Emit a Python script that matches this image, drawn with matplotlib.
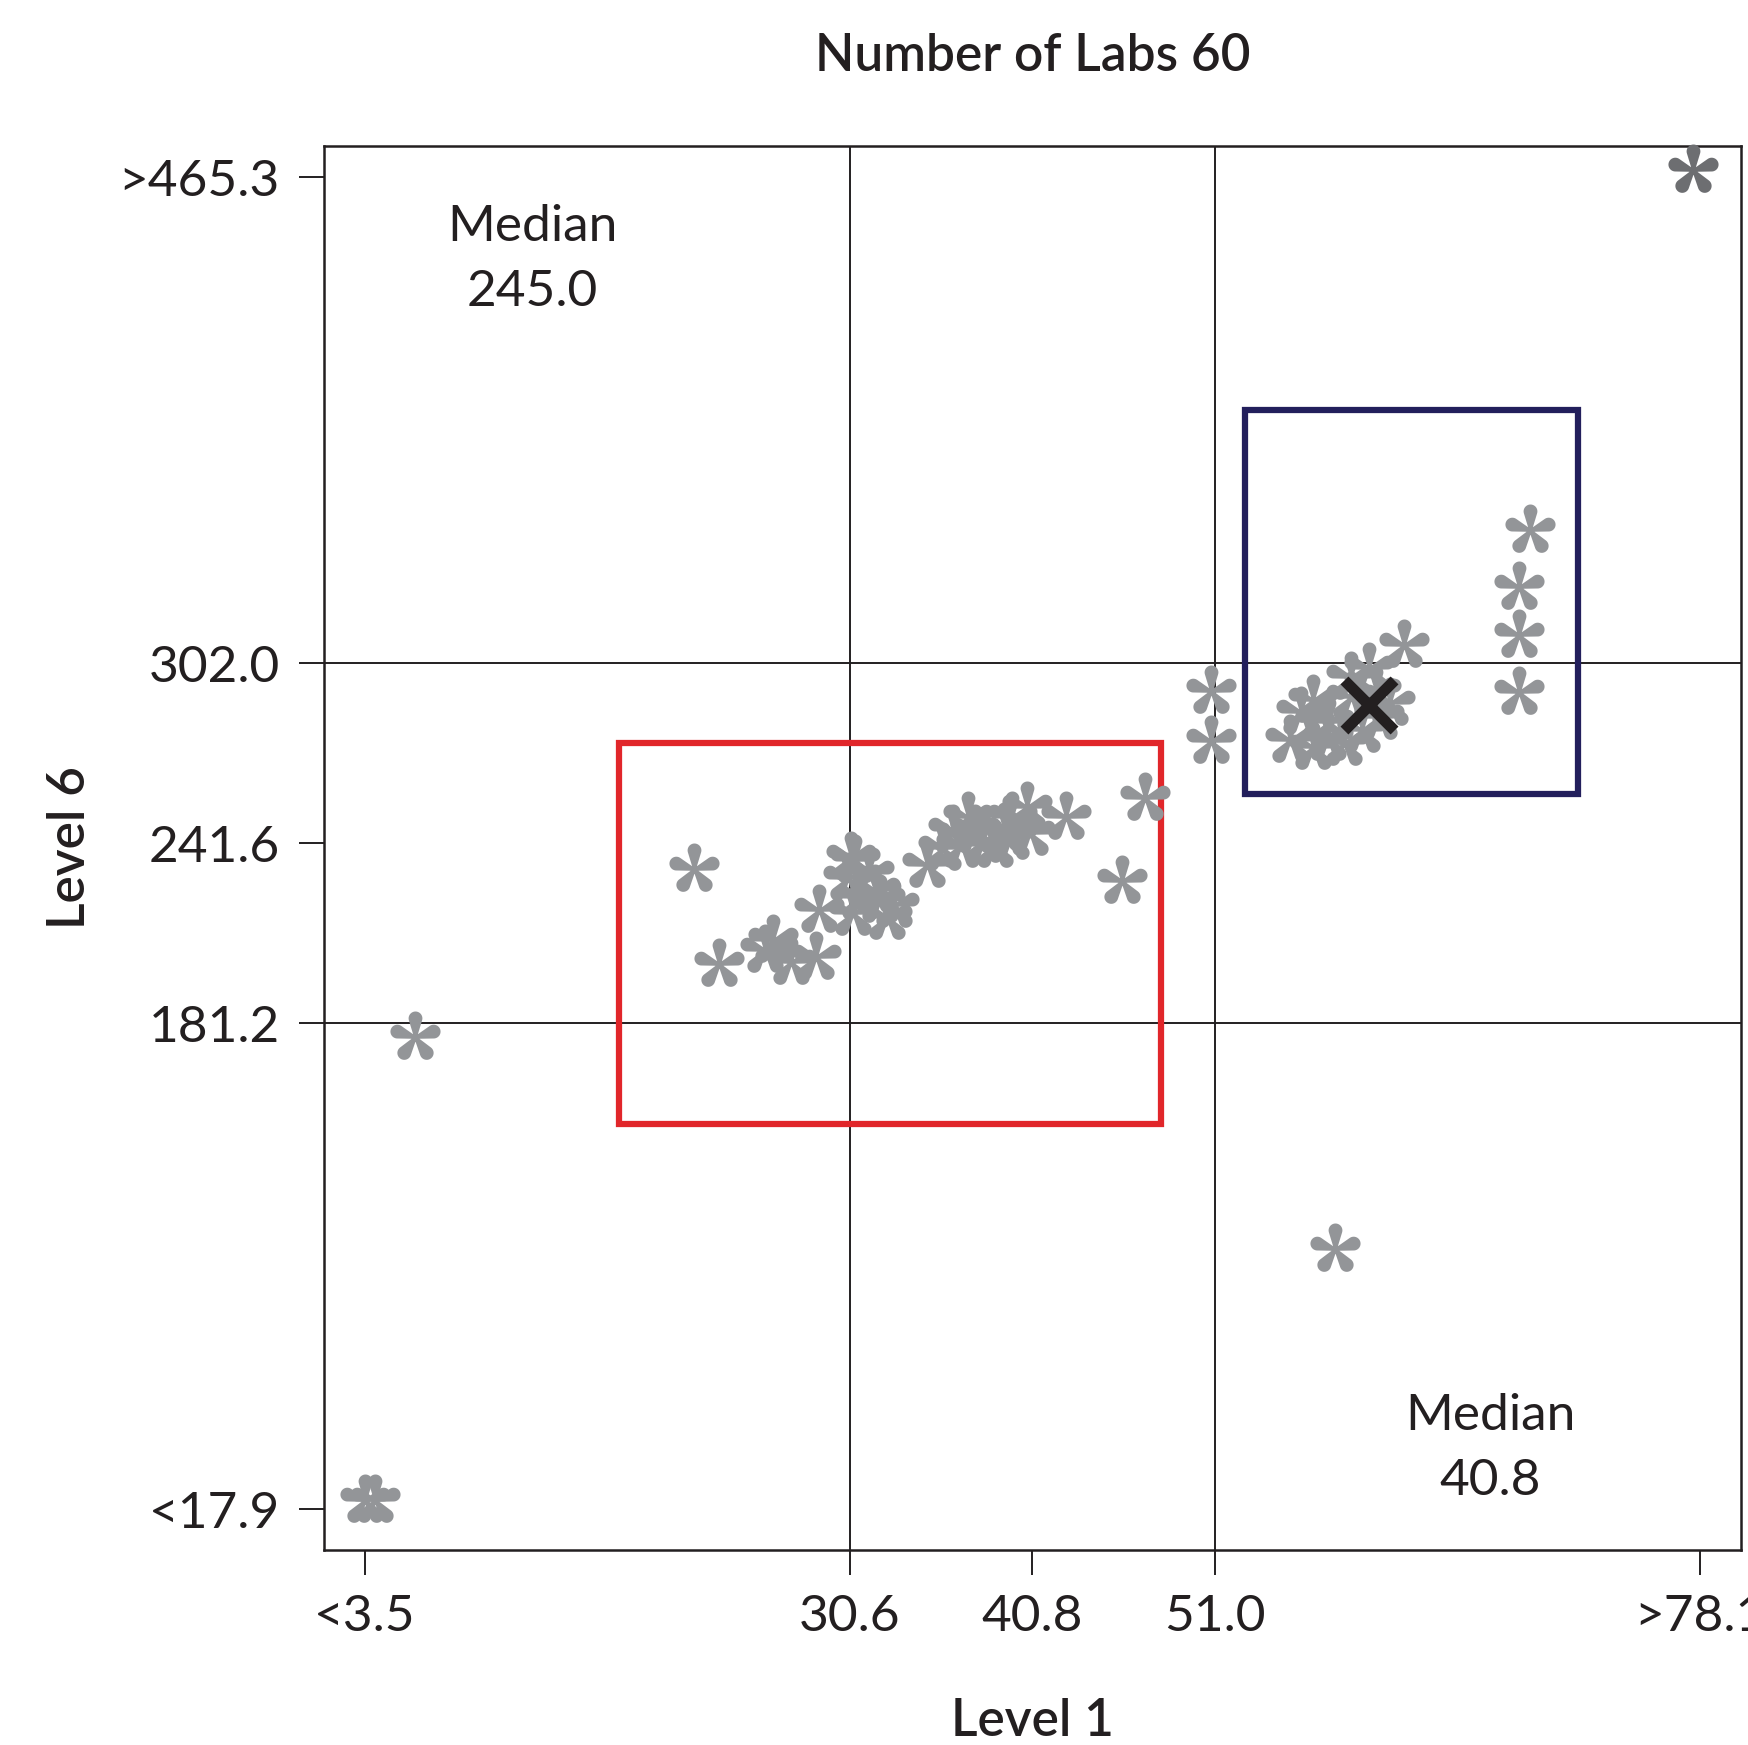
import matplotlib
matplotlib.use("Agg")
import numpy as np
import matplotlib.pyplot as plt
from matplotlib.path import Path
from matplotlib.patches import Rectangle

plt.rcParams['font.family'] = ['Lato', 'DejaVu Sans']

# lab results (Level 1, Level 6)
lab_x = [6.3, 3.5, 4.1, 57.7, 21.9, 23.3, 45.8, 47.1, 50.8, 50.8,
         68.6, 68.0, 68.0, 68.0, 42.7,
         # red box cluster
         26.3, 25.9, 28.7, 27.3, 28.9, 30.7, 30.5, 31.7, 32.3, 32.7,
         30.8, 31.2, 30.9, 32.0, 33.1,
         34.9, 35.8, 36.4, 37.2, 38.1, 39.2, 39.7, 40.5, 39.6, 40.7,
         36.8, 38.7, 37.6,
         # blue box cluster
         61.6, 59.6, 58.6, 56.5, 55.8, 55.2, 56.5, 58.2, 59.2, 60.8,
         60.2, 58.6, 57.4, 60.0, 57.3]
lab_y = [176.6, 21.0, 21.0, 105.4, 232.8, 201.0, 229.0, 256.8, 292.7, 275.9,
         346.8, 327.8, 311.6, 292.5, 250.4,
         209.1, 205.7, 203.4, 201.7, 219.2, 237.0, 229.9, 231.6, 222.6, 216.9,
         218.2, 223.5, 236.0, 225.9, 220.9,
         234.3, 240.0, 246.0, 250.4, 242.7, 246.7, 250.5, 253.9, 243.7, 245.0,
         241.1, 241.1, 246.1,
         308.2, 300.5, 297.4, 289.7, 285.7, 276.3, 273.9, 275.3, 279.6, 288.7,
         284.0, 290.7, 282.3, 292.9, 277.0]
outlier_x = [77.7]
outlier_y = [467.8]
center_x = [59.6]
center_y = [288.1]

red_box = (17.7, 47.97, 147.4, 275.4)
blue_box = (52.7, 71.3, 258.2, 387.1)

x_ticks = [3.5, 30.6, 40.8, 51.0, 78.1]
x_labels = ['<3.5', '30.6', '40.8', '51.0', '>78.1']
y_ticks = [17.9, 181.2, 241.6, 302.0, 465.3]
y_labels = ['<17.9', '181.2', '241.6', '302.0', '>465.3']
x_lines = [30.6, 51.0]
y_lines = [181.2, 302.0]


def asterisk_marker(n=5, d=0.72, r_tip=0.26, r_mid=0.05):
    # five teardrop petals, like a printed asterisk glyph
    beta = np.arcsin((r_tip - r_mid) / d)
    a0 = np.pi / 2 + beta
    t_tip = np.linspace(-a0, a0, 30)
    t_mid = np.linspace(a0, 2 * np.pi - a0, 12)
    px = np.concatenate([d + r_tip * np.cos(t_tip), r_mid * np.cos(t_mid)])
    py = np.concatenate([r_tip * np.sin(t_tip), r_mid * np.sin(t_mid)])
    paths = []
    for k in range(n):
        ang = np.pi / 2 + 2 * np.pi * k / n
        c, s = np.cos(ang), np.sin(ang)
        xy = np.column_stack([px * c - py * s, px * s + py * c])
        paths.append(Path(np.vstack([xy, xy[:1]]), closed=True))
    return Path.make_compound_path(*paths)


ink = '#231f20'
fig = plt.figure(figsize=(17.48, 17.45), dpi=100)
ax = fig.add_axes([0.1856, 0.1120, 0.8106, 0.8043])

for v in x_lines:
    ax.axvline(v, color=ink, lw=1.4, zorder=1)
for v in y_lines:
    ax.axhline(v, color=ink, lw=1.4, zorder=1)

for (x0, x1, y0, y1), c in [(red_box, '#e1262a'), (blue_box, '#231f5c')]:
    ax.add_patch(Rectangle((x0, y0), x1 - x0, y1 - y0, fill=False,
                           edgecolor=c, lw=4.5, zorder=2))

star = asterisk_marker()
ax.scatter(lab_x, lab_y, s=1400, marker=star, color='#939598', lw=0, zorder=3)
ax.scatter(outlier_x, outlier_y, s=1400, marker=star, color='#6d6e71', lw=0,
           zorder=3, clip_on=False)
ax.scatter(center_x, center_y, s=1300, marker='x', color=ink, lw=8, zorder=4)

ax.set_xlim(1.26, 80.42)
ax.set_ylim(4.33, 475.8)
ax.set_xticks(x_ticks, x_labels)
ax.set_yticks(y_ticks, y_labels)
ax.tick_params(length=18, width=1.4, color=ink, labelsize=37, labelcolor=ink, pad=14)
for s in ax.spines.values():
    s.set_linewidth(1.8)
    s.set_color(ink)

ax.text(0.147, 0.9192, 'Median\n245.0', transform=ax.transAxes, ha='center',
        va='center', fontsize=37, color=ink, linespacing=1.51)
ax.text(0.823, 0.0718, 'Median\n40.8', transform=ax.transAxes, ha='center',
        va='center', fontsize=37, color=ink, linespacing=1.51)

ax.set_title('Number of Labs 60', fontsize=37, fontweight='semibold', color=ink, pad=54)
ax.set_xlabel('Level 1', fontsize=37, fontweight='semibold', color=ink, labelpad=42)
ax.set_ylabel('Level 6', fontsize=37, fontweight='semibold', color=ink, labelpad=18)

fig.savefig('out.png', dpi=100)
